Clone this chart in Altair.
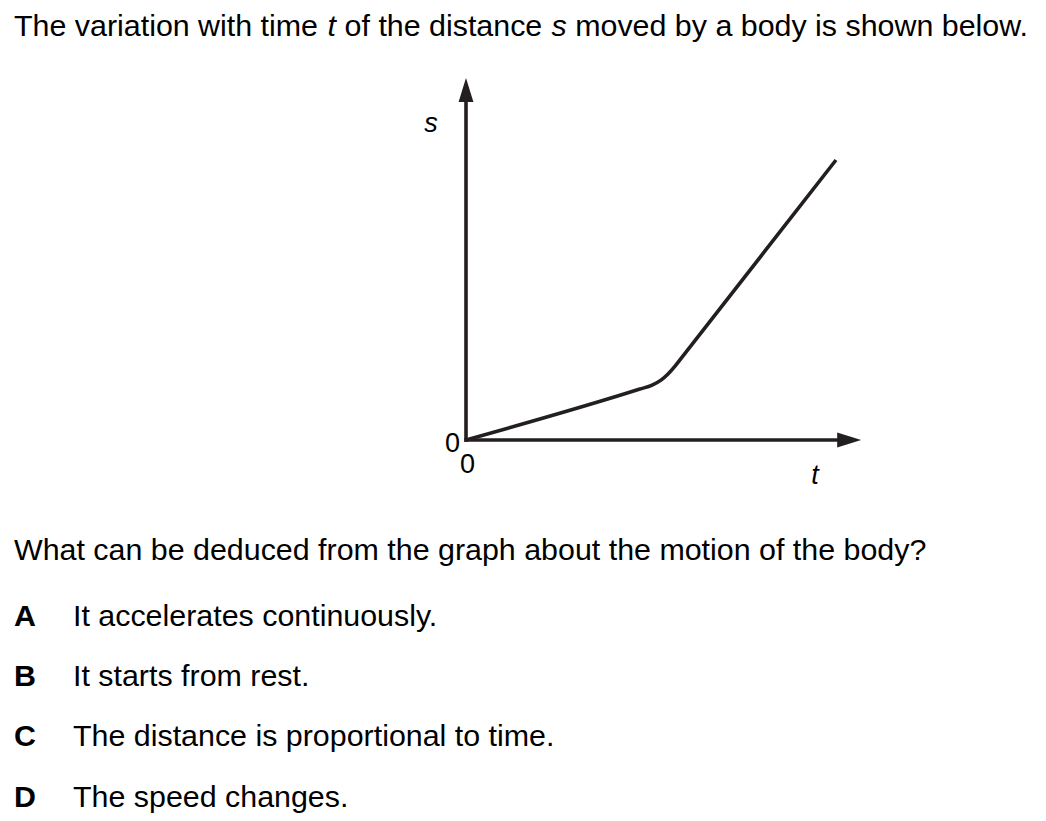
import altair as alt
import pandas as pd

# ---------------- data ----------------
# distance-time curve (arbitrary units)
T_VALUES = [0.0, 4.70, 5.03, 5.27, 5.46, 5.65, 5.84, 10.0]
S_VALUES = [0.0, 1.82, 1.96, 2.14, 2.36, 2.64, 2.96, 10.0]

# axes extents (arrow tips), in the same units
T_AXIS_END = 10.68
S_AXIS_END = 12.93

TITLE_PARTS = ["The variation with time", "t", "of the distance", "s",
               "moved by a body is shown below."]
TITLE_ITALIC = [False, True, False, True, False]
QUESTION = "What can be deduced from the graph about the motion of the body?"
OPTION_LETTERS = ["A", "B", "C", "D"]
OPTION_TEXTS = ["It accelerates continuously.",
                "It starts from rest.",
                "The distance is proportional to time.",
                "The speed changes."]
AXIS_LABELS = ["s", "t", "0", "0"]

# ---------------- style / layout ----------------
INK = "#231f20"
FONT = "Liberation Sans"
FS = 30.4
FS_LBL = 27
OFF = 8  # page margin


def px(v):
    return v - OFF


one = pd.DataFrame({"k": [0]})


def txt(s, x, y, size=FS, bold=False, italic=False, align="left"):
    return alt.Chart(one).mark_text(
        text=s, font=FONT, fontSize=size,
        fontWeight="bold" if bold else "normal",
        fontStyle="italic" if italic else "normal",
        align=align, baseline="alphabetic", color="black",
    ).encode(x=alt.value(px(x)), y=alt.value(px(y)))


xs = alt.Scale(domain=[0, 10], range=[px(466), px(836)], nice=False, zero=False)
ys = alt.Scale(domain=[0, 10], range=[px(440), px(160)], nice=False, zero=False)

layers = []

# title with italic symbols
title_x = [14, 327.6, 344.6, 551.5, 575.2]
for part, it, x in zip(TITLE_PARTS, TITLE_ITALIC, title_x):
    layers.append(txt(part, x, 35.8, italic=it))

layers.append(txt(QUESTION, 14, 560.4))

opt_y = [626, 686, 746, 807]
for letter, text, y in zip(OPTION_LETTERS, OPTION_TEXTS, opt_y):
    layers.append(txt(letter, 14, y, bold=True))
    layers.append(txt(text, 73, y))

# axes lines
axes_df = pd.DataFrame({
    "t": [0.0, 0.0], "s": [0.0, 0.0],
    "t2": [T_AXIS_END - 0.3, 0.0], "s2": [0.0, S_AXIS_END - 0.4],
})
layers.append(
    alt.Chart(axes_df).mark_rule(color=INK, strokeWidth=3.6, strokeCap="square").encode(
        x=alt.X("t:Q", scale=xs, axis=None), x2="t2:Q",
        y=alt.Y("s:Q", scale=ys, axis=None), y2="s2:Q",
    )
)

# arrowheads
layers.append(
    alt.Chart(pd.DataFrame({"t": [T_AXIS_END], "s": [0.0]})).mark_point(
        shape="M0,0L-1,-0.31L-1,0.31Z", size=2304, filled=True,
        color=INK, opacity=1, strokeWidth=0,
    ).encode(x=alt.X("t:Q", scale=xs, axis=None), y=alt.Y("s:Q", scale=ys, axis=None))
)
layers.append(
    alt.Chart(pd.DataFrame({"t": [0.0], "s": [S_AXIS_END]})).mark_point(
        shape="M0,0L0.31,1L-0.31,1Z", size=2304, filled=True,
        color=INK, opacity=1, strokeWidth=0,
    ).encode(x=alt.X("t:Q", scale=xs, axis=None), y=alt.Y("s:Q", scale=ys, axis=None))
)

# the curve
curve_df = pd.DataFrame({"t": T_VALUES, "s": S_VALUES})
layers.append(
    alt.Chart(curve_df).mark_line(
        color=INK, strokeWidth=3.6, interpolate="monotone",
        strokeCap="butt", strokeJoin="round",
    ).encode(x=alt.X("t:Q", scale=xs, axis=None), y=alt.Y("s:Q", scale=ys, axis=None))
)

# axis labels
layers.append(txt(AXIS_LABELS[0], 431, 132, size=FS_LBL, italic=True, align="center"))
layers.append(txt(AXIS_LABELS[1], 815, 484, size=FS_LBL, italic=True, align="center"))
layers.append(txt(AXIS_LABELS[2], 452.5, 452, size=FS_LBL, align="center"))
layers.append(txt(AXIS_LABELS[3], 467.5, 473, size=FS_LBL, align="center"))

chart = alt.layer(*layers).properties(
    width=1030, height=805, padding=0, autosize="none", background="white"
).configure_view(stroke=None)

chart.save("out.html", embed_options={"renderer": "svg", "actions": False})
